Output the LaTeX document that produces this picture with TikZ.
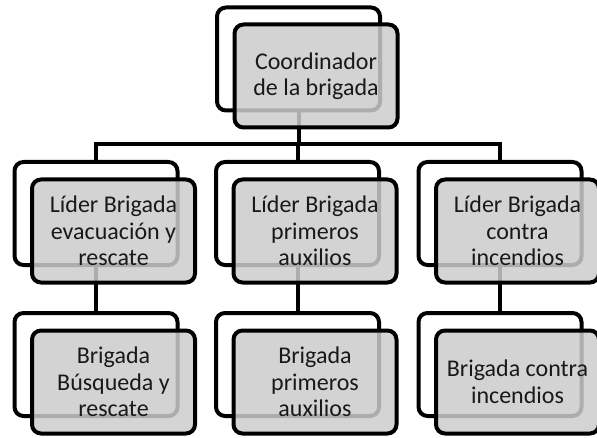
\documentclass[tikz,border=0pt]{standalone}
\usepackage{fontspec}
\setmainfont{Carlito}
\begin{document}
\begin{tikzpicture}[x=1pt, y=1pt,
        backbox/.style={draw=black, line width=4pt, rounded corners=9pt, fill=white,
            minimum width=163pt, minimum height=103pt},
        frontbox/.style={draw=black, line width=4pt, rounded corners=9pt,
            fill=black!20, fill opacity=0.85, text opacity=1, text=black!90,
            minimum width=163pt, minimum height=103pt, inner sep=0pt, align=center,
            font=\fontsize{24}{26.5}\selectfont},
        link/.style={line width=4pt}]

        \useasboundingbox (0,0) rectangle (597,437);

        % Back boxes
        \node[backbox] (coordB) at (298.5,378) {};
        \node[backbox] (evacB) at (96,223.5) {};
        \node[backbox] (auxB) at (297.5,223.5) {};
        \node[backbox] (incB) at (500,223.5) {};
        \node[backbox] (busqB) at (96,72.5) {};
        \node[backbox] (primB) at (297.5,72.5) {};
        \node[backbox] (contB) at (500,72.5) {};

        % Bar under the coordinator
        \coordinate (bar) at (298.5,293);

        % Connectors
        \draw[link] (coordB.south) -- (bar);
        \draw[link] (evacB.north) |- (bar) -| (incB.north);
        \draw[link] (auxB.north) -- (auxB.north |- bar);
        \draw[link] (evacB.south) -- (busqB.north);
        \draw[link] (auxB.south) -- (primB.north);
        \draw[link] (incB.south) -- (contB.north);

        % Front boxes
        \node[frontbox] (coordF) at (316,361) {Coordinador\\de la brigada};
        \node[frontbox] (evacF) at (113.5,206) {Líder Brigada\\evacuación y\\rescate};
        \node[frontbox] (auxF) at (315,206) {Líder Brigada\\primeros\\auxilios};
        \node[frontbox] (incF) at (517.5,206) {Líder Brigada\\contra\\incendios};
        \node[frontbox] (busqF) at (113.5,55) {Brigada\\Búsqueda y\\rescate};
        \node[frontbox] (primF) at (315,55) {Brigada\\primeros\\auxilios};
        \node[frontbox] (contF) at (517.5,55) {Brigada contra\\incendios};

\end{tikzpicture}
\end{document}
